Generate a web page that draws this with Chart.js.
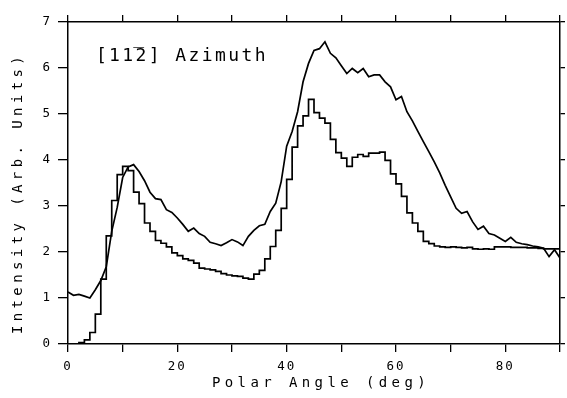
<!DOCTYPE html>
<html>
<head>
<meta charset="utf-8">
<script src="https://cdn.jsdelivr.net/npm/chart.js@4.4.1/dist/chart.umd.min.js"></script>
<style>
  html, body { margin: 0; padding: 0; background: #fff; }
  #wrap { width: 567px; height: 398px; }
</style>
</head>
<body>
<div id="wrap"><canvas id="c" width="567" height="398"></canvas></div>
<script>
// ---- data ----
const xTitle = "Polar Angle (deg)";
const yTitle = "Intensity (Arb. Units)";
const annotation = "[11\u03052] Azimuth";

// smooth (line) series: angle in degrees, intensity
const lineAngles = [0,1,2,3,4,5,6,7,8,9,10,11,12,13,14,15,16,17,18,19,20,21,22,23,24,25,26,27,28,29,30,31,32,33,34,35,36,37,38,39,40,41,42,43,44,45,46,47,48,49,50,51,52,53,54,55,56,57,58,59,60,61,62,63,64,65,66,67,68,69,70,71,72,73,74,75,76,77,78,79,80,81,82,83,84,85,86,87,88,89,90];
const lineValues = [1.13,1.06,1.08,1.04,1.00,1.18,1.38,1.68,2.45,2.97,3.62,3.85,3.90,3.75,3.55,3.30,3.16,3.14,2.92,2.86,2.74,2.60,2.45,2.52,2.40,2.34,2.21,2.18,2.14,2.20,2.27,2.22,2.14,2.34,2.47,2.57,2.60,2.88,3.06,3.53,4.30,4.62,5.05,5.70,6.10,6.38,6.42,6.57,6.32,6.22,6.05,5.88,5.99,5.90,5.99,5.81,5.85,5.85,5.70,5.59,5.31,5.38,5.05,4.85,4.62,4.40,4.18,3.96,3.72,3.45,3.20,2.95,2.84,2.88,2.66,2.49,2.56,2.40,2.37,2.30,2.23,2.32,2.21,2.18,2.16,2.13,2.11,2.08,1.90,2.05,1.87];

// histogram (step) series: 1-degree bins starting at these angles
const binStarts = [0,1,2,3,4,5,6,7,8,9,10,11,12,13,14,15,16,17,18,19,20,21,22,23,24,25,26,27,28,29,30,31,32,33,34,35,36,37,38,39,40,41,42,43,44,45,46,47,48,49,50,51,52,53,54,55,56,57,58,59,60,61,62,63,64,65,66,67,68,69,70,71,72,73,74,75,76,77,78,79,80,81,82,83,84,85,86,87,88,89];
const binValues = [0,0,0,0.03,0.09,0.25,0.65,1.41,2.35,3.12,3.68,3.86,3.77,3.30,3.05,2.63,2.45,2.25,2.19,2.11,1.98,1.92,1.85,1.82,1.76,1.65,1.63,1.61,1.58,1.53,1.50,1.48,1.47,1.43,1.41,1.52,1.60,1.85,2.12,2.47,2.95,3.58,4.28,4.74,4.96,5.32,5.03,4.91,4.80,4.45,4.16,4.04,3.86,4.06,4.12,4.08,4.15,4.15,4.17,3.99,3.70,3.48,3.21,2.85,2.63,2.45,2.23,2.18,2.13,2.11,2.10,2.11,2.10,2.09,2.10,2.07,2.06,2.07,2.06,2.11,2.11,2.11,2.10,2.10,2.10,2.09,2.09,2.08,2.07,2.07];
const binWidth = 1;

const xMin = 0, xMax = 90, xStep = 10, xLabelEvery = 20;
const yMin = 0, yMax = 7, yStep = 1;
const annotationAt = { x: 5.1, y: 6.26 };

// ---- build datasets ----
const linePoints = lineAngles.map((a, i) => ({ x: a, y: lineValues[i] }));
const histPoints = binStarts.map((a, i) => ({ x: a, y: binValues[i] }));
histPoints.push({ x: binStarts[binStarts.length - 1] + binWidth, y: binValues[binValues.length - 1] });

const FONT = '"DejaVu Sans Mono", "Liberation Mono", monospace';
const titleShift = { x: [7, 0], y: [0, 10] };

const spacingPlugin = {
  id: 'spacing',
  beforeDraw(chart) {
    for (const [id, s] of Object.entries(chart.scales)) {
      if (s.__wrapped) continue;
      const t = s.drawTitle.bind(s);
      const l = s.drawLabels.bind(s);
      const sh = titleShift[id] || [0, 0];
      s.drawTitle = function () {
        const c = this.ctx; c.save(); c.letterSpacing = '4.4px'; c.translate(sh[0], sh[1]); t(); c.restore();
      };
      s.drawLabels = function (a) {
        const c = this.ctx; c.save(); c.letterSpacing = '2px'; l(a); c.restore();
      };
      s.__wrapped = true;
    }
  },
  afterDraw(chart) {
    const ctx = chart.ctx;
    ctx.save();
    ctx.font = '18px ' + FONT;
    ctx.letterSpacing = '2.4px';
    ctx.fillStyle = '#000';
    ctx.textAlign = 'left';
    ctx.textBaseline = 'middle';
    ctx.fillText(annotation, chart.scales.x.getPixelForValue(annotationAt.x), chart.scales.y.getPixelForValue(annotationAt.y));
    ctx.restore();
  }
};

const axisCommon = {
  border: { display: true, color: '#000', width: 1.5 },
};

new Chart(document.getElementById('c'), {
  type: 'line',
  data: {
    datasets: [
      { data: linePoints, borderColor: '#000', borderWidth: 1.7, pointRadius: 0, tension: 0, fill: false },
      { data: histPoints, borderColor: '#000', borderWidth: 1.7, pointRadius: 0, stepped: 'after', fill: false }
    ]
  },
  options: {
    responsive: false,
    devicePixelRatio: 1,
    animation: false,
    layout: { padding: 0 },
    plugins: { legend: { display: false }, tooltip: { enabled: false } },
    scales: {
      x: {
        type: 'linear', position: 'bottom', min: xMin, max: xMax,
        ...axisCommon,
        grid: { drawOnChartArea: false, drawTicks: true, tickLength: 8, color: '#000', lineWidth: 1.3 },
        ticks: { stepSize: xStep, autoSkip: false, maxRotation: 0, color: '#000', padding: 7,
                 font: { family: FONT, size: 12.5 },
                 callback: v => (v % xLabelEvery === 0 ? String(v) : '') },
        title: { display: true, text: xTitle, color: '#000', font: { family: FONT, size: 14 }, padding: { top: 0, bottom: 6 } },
        afterFit: s => { s.height = 54; }
      },
      x2: {
        type: 'linear', position: 'top', min: xMin, max: xMax,
        ...axisCommon,
        grid: { drawOnChartArea: false, drawTicks: true, tickLength: 7, color: '#000', lineWidth: 1.3 },
        ticks: { display: false, stepSize: xStep, autoSkip: false },
        afterFit: s => { s.height = 22; }
      },
      y: {
        type: 'linear', position: 'left', min: yMin, max: yMax,
        ...axisCommon,
        grid: { drawOnChartArea: false, drawTicks: true, tickLength: 10, color: '#000', lineWidth: 1.3 },
        ticks: { stepSize: yStep, color: '#000', padding: 6, font: { family: FONT, size: 12.5 } },
        title: { display: true, text: yTitle, color: '#000', font: { family: FONT, size: 14 }, padding: { top: 10, bottom: 0 } },
        afterFit: s => { s.width = 68; }
      },
      y2: {
        type: 'linear', position: 'right', min: yMin, max: yMax,
        ...axisCommon,
        grid: { drawOnChartArea: false, drawTicks: true, tickLength: 5, color: '#000', lineWidth: 1.3 },
        ticks: { display: false, stepSize: yStep },
        afterFit: s => { s.width = 4; }
      }
    }
  },
  plugins: [spacingPlugin]
});
</script>
</body>
</html>
